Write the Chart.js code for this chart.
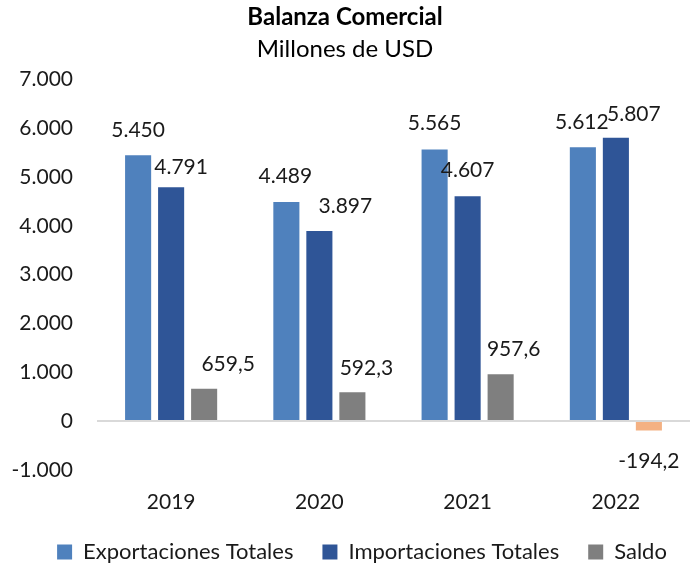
<!DOCTYPE html>
<html>
<head>
<meta charset="utf-8">
<script src="https://cdn.jsdelivr.net/npm/chart.js@4.4.1/dist/chart.umd.min.js"></script>
<style>
  html, body { margin: 0; padding: 0; background: #ffffff; }
  #wrap { width: 698px; height: 565px; position: relative; }
</style>
</head>
<body>
<div id="wrap"><canvas id="c" width="698" height="565"></canvas></div>
<script>
const years = ['2019', '2020', '2021', '2022'];
const exportaciones = [5450, 4489, 5565, 5612];
const importaciones = [4791, 3897, 4607, 5807];
const saldo = [659.5, 592.3, 957.6, -194.2];
const yTicks = [-1000, 0, 1000, 2000, 3000, 4000, 5000, 6000, 7000];

const FONT = 'Lato, Carlito, "Liberation Sans", sans-serif';

function fmtEs(v, decimals) {
  const neg = v < 0;
  const abs = Math.abs(v);
  let s = abs.toFixed(decimals);
  let [ip, dp] = s.split('.');
  ip = ip.replace(/\B(?=(\d{3})+(?!\d))/g, '.');
  return (neg ? '-' : '') + ip + (dp ? ',' + dp : '');
}

const valueLabels = {
  id: 'valueLabels',
  afterDatasetsDraw(chart, args, opts) {
    const ctx = chart.ctx;
    ctx.save();
    ctx.font = '21px ' + FONT;
    ctx.fillStyle = '#1a1a1a';
    ctx.textAlign = 'center';
    ctx.textBaseline = 'middle';
    chart.data.datasets.forEach((ds, di) => {
      const meta = chart.getDatasetMeta(di);
      meta.data.forEach((el, i) => {
        const v = ds.data[i];
        const dx = opts.dx[di][i];
        const dy = opts.dy[di][i];
        ctx.fillText(fmtEs(v, opts.decimals[di]), el.x + dx, el.y + dy);
      });
    });
    ctx.restore();
  }
};

const legendShift = {
  id: 'legendShift',
  afterLayout(chart, args, opts) {
    const lg = chart.legend;
    if (lg) {
      lg.left += opts.dx; lg.right += opts.dx;
      lg.top += opts.dy; lg.bottom += opts.dy;
    }
  }
};

new Chart(document.getElementById('c'), {
  type: 'bar',
  data: {
    labels: years,
    datasets: [
      { label: 'Exportaciones Totales', data: exportaciones, backgroundColor: '#4F81BD' },
      { label: 'Importaciones Totales', data: importaciones, backgroundColor: '#2F5597' },
      { label: 'Saldo', data: saldo,
        backgroundColor: (c) => (c.raw !== undefined && c.raw < 0) ? '#F4B183' : '#7F7F7F' }
    ]
  },
  options: {
    responsive: false,
    animation: false,
    devicePixelRatio: 1,
    layout: { padding: { left: 0, right: 8, top: 0, bottom: -31 } },
    datasets: { bar: { categoryPercentage: 0.668, barPercentage: 0.79 } },
    scales: {
      x: {
        grid: { display: false, drawTicks: false },
        border: { display: false },
        ticks: { color: '#1a1a1a', font: { family: FONT, size: 21 }, padding: 20 }
      },
      y: {
        min: -1000, max: 7000,
        afterBuildTicks: (s) => { s.ticks = yTicks.map(v => ({ value: v })); },
        afterFit: (s) => { s.width = 97; },
        grid: {
          drawTicks: false,
          lineWidth: 2,
          color: (c) => (c.tick && c.tick.value === 0) ? '#d9d9d9' : 'rgba(0,0,0,0)'
        },
        border: { display: false },
        ticks: {
          color: '#1a1a1a', font: { family: FONT, size: 21 }, padding: 24,
          callback: (v) => fmtEs(v, 0)
        }
      }
    },
    plugins: {
      title: {
        display: true, text: 'Balanza Comercial', color: '#000',
        font: { family: FONT, size: 24, weight: 'bold' },
        padding: { top: 3, bottom: 3 }
      },
      subtitle: {
        display: true, text: 'Millones de USD', color: '#000',
        font: { family: FONT, size: 24, weight: 'normal' },
        padding: { top: 0, bottom: 16 }
      },
      legend: {
        position: 'bottom',
        labels: {
          color: '#1a1a1a', font: { family: FONT, size: 22 },
          boxWidth: 15, boxHeight: 15, padding: 29
        }
      },
      legendShift: { dx: 17, dy: -23 },
      tooltip: { enabled: false },
      valueLabels: {
        decimals: [0, 0, 1],
        dx: [[0, -1, 0, -1], [10, 26, 0, 18], [24, 14, 13, 0]],
        dy: [[-25, -26, -26, -25], [-20, -25, -26, -24], [-25, -24, -25, 31]]
      }
    }
  },
  plugins: [valueLabels, legendShift]
});
</script>
</body>
</html>
